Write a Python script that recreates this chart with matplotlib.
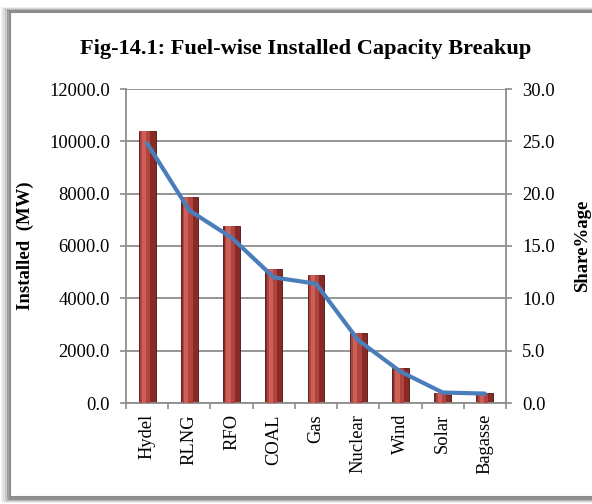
import numpy as np
import matplotlib.pyplot as plt
from matplotlib.patches import Rectangle

plt.rcParams.update({
    'font.family': ['Liberation Serif', 'DejaVu Serif'],
    'font.size': 13.3,
})

# data
fuels = ['Hydel', 'RLNG', 'RFO', 'COAL', 'Gas', 'Nuclear', 'Wind', 'Solar', 'Bagasse']
installed_mw = [10400, 7870, 6760, 5120, 4890, 2680, 1340, 400, 380]
share_pct = [24.8, 18.4, 15.8, 12.0, 11.4, 6.0, 3.0, 1.0, 0.9]

fig = plt.figure(figsize=(5.92, 5.04), dpi=100)

# frame with a soft shadow
for i, a in enumerate([0.10, 0.18, 0.30, 0.55]):
    off = (4 - i) * 2
    fig.patches.append(Rectangle(((10 - off) / 592, (7 - off * 0.5) / 504), 1.1, (485 + off) / 504,
                                 transform=fig.transFigure, facecolor='none',
                                 edgecolor='#606060', linewidth=2.0, alpha=a, zorder=-3))
fig.patches.append(Rectangle((10 / 592, 7 / 504), 1.1, 485 / 504, transform=fig.transFigure,
                             facecolor='white', edgecolor='#8c8c8c', linewidth=1.5, zorder=-2))

ax = fig.add_axes([126 / 592, 1 - 403 / 504, 380 / 592, 314 / 504])
ax.patch.set_alpha(0)
x = np.arange(len(fuels))

# bars with a rough cylinder look
ax.bar(x, installed_mw, width=0.4, color='#8a2a27', edgecolor='#4a1210', linewidth=0.6, zorder=2)
ax.bar(x - 0.04, installed_mw, width=0.24, color='#b0443f', linewidth=0, zorder=3)
ax.bar(x - 0.07, installed_mw, width=0.1, color='#cc5f58', linewidth=0, zorder=3)

ax.set_ylim(0, 12000)
ax.set_yticks(np.arange(0, 12001, 2000))
ax.set_yticklabels([f'{v:.1f}' for v in np.arange(0, 12001, 2000)])
ax.set_xlim(-0.5, len(fuels) - 0.5)
ax.set_xticks(x)
ax.set_xticklabels(fuels, rotation=90)
ax.set_xticks(np.arange(-0.5, len(fuels)), minor=True)
ax.tick_params(axis='x', which='major', length=0, pad=8)
ax.tick_params(axis='x', which='minor', length=4.5, color='#8c8c8c', width=1.2)
ax.tick_params(axis='y', length=4.5, color='#8c8c8c', width=1.2, pad=7)
ax.grid(axis='y', color='#8c8c8c', linewidth=1.3, zorder=0)
ax.set_axisbelow(True)
for s in ['top', 'right']:
    ax.spines[s].set_visible(False)
for s in ['left', 'bottom']:
    ax.spines[s].set_color('#8c8c8c')
    ax.spines[s].set_linewidth(1.3)
ax.set_ylabel('Installed  (MW)', fontweight='bold', fontsize=13.5)
ax.yaxis.set_label_coords(-0.242, 0.5)

ax2 = ax.twinx()
ax2.plot(x, share_pct, color='#4a7ebb', linewidth=3.0, solid_capstyle='round', zorder=5)
ax2.set_ylim(0, 30)
ax2.set_yticks(np.arange(0, 30.1, 5))
ax2.set_yticklabels([f'{v:.1f}' for v in np.arange(0, 30.1, 5)])
ax2.tick_params(axis='y', length=4.5, color='#8c8c8c', width=1.2, pad=7)
for s in ['top', 'left', 'bottom']:
    ax2.spines[s].set_visible(False)
ax2.spines['right'].set_color('#8c8c8c')
ax2.spines['right'].set_linewidth(1.3)
ax2.set_ylabel('Share%age', fontweight='bold', fontsize=13.5)
ax2.yaxis.set_label_coords(1.18, 0.5)

title = fig.text(306 / 592, 1 - 49 / 504, 'Fig-14.1: Fuel-wise Installed Capacity Breakup',
                 ha='center', va='center', fontsize=15, fontweight='bold')
# fit title width to the reference (~451 px)
r = fig.canvas.get_renderer()
w = title.get_window_extent(r).width
title.set_fontsize(15 * 451 / w)

fig.savefig('out.png', dpi=100)
